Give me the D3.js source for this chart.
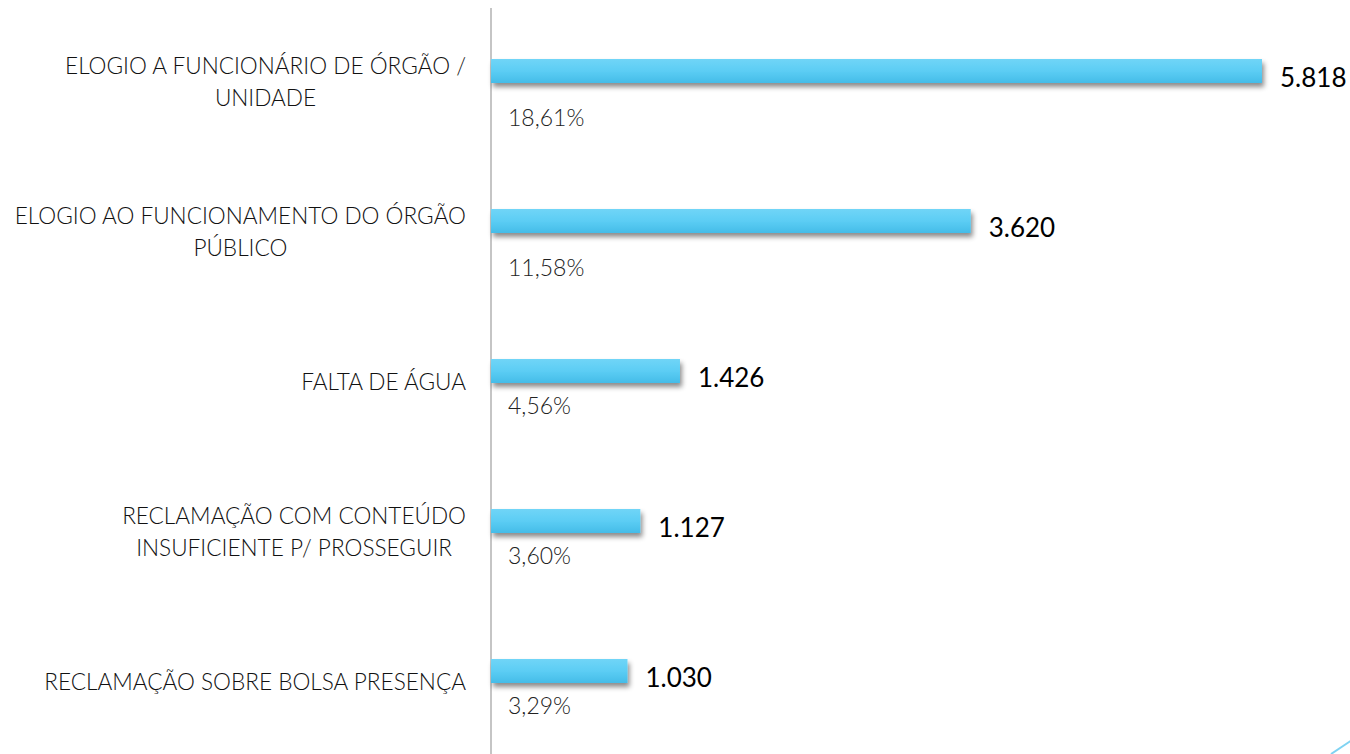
<!DOCTYPE html>
<html>
<head>
<meta charset="utf-8">
<script src="https://cdn.jsdelivr.net/npm/d3@7"></script>
<style>
  html, body { margin: 0; padding: 0; background: #fff; }
  svg { display: block; }
</style>
</head>
<body>
<div id="chart"></div>
<script>
// chart data
const categories = [
  ["ELOGIO A FUNCIONÁRIO DE ÓRGÃO /", "UNIDADE"],
  ["ELOGIO AO FUNCIONAMENTO DO ÓRGÃO", "PÚBLICO"],
  ["FALTA DE ÁGUA"],
  ["RECLAMAÇÃO COM CONTEÚDO", "INSUFICIENTE P/ PROSSEGUIR"],
  ["RECLAMAÇÃO SOBRE BOLSA PRESENÇA"]
];
const values = [5818, 3620, 1426, 1127, 1030];
const valueLabels = ["5.818", "3.620", "1.426", "1.127", "1.030"];
const percentLabels = ["18,61%", "11,58%", "4,56%", "3,60%", "3,29%"];

const width = 1350,
      height = 754,
      axisX = 491,
      barEnd = 1262,
      barH = 24,
      labelRight = 466;

const svg = d3.select("#chart")
  .append("svg")
    .attr("width", width)
    .attr("height", height);

const defs = svg.append("defs");

// gradient on the bars, lighter on top
const grad = defs.append("linearGradient")
    .attr("id", "barGrad")
    .attr("x1", 0).attr("y1", 0).attr("x2", 0).attr("y2", 1);
grad.append("stop").attr("offset", "0%").attr("stop-color", "#70d5f7");
grad.append("stop").attr("offset", "50%").attr("stop-color", "#5ccdf4");
grad.append("stop").attr("offset", "100%").attr("stop-color", "#44bce8");

// soft drop shadow under the bars
defs.append("filter")
    .attr("id", "shadow")
    .attr("x", "-5%").attr("y", "-50%")
    .attr("width", "115%").attr("height", "250%")
  .append("feDropShadow")
    .attr("dx", 2)
    .attr("dy", 4)
    .attr("stdDeviation", 2.5)
    .attr("flood-color", "#000")
    .attr("flood-opacity", 0.45);

const idx = d3.range(values.length);

// scales
const x = d3.scaleLinear()
  .domain([0, d3.max(values)])
  .range([axisX, barEnd]);

const y = d3.scalePoint()
  .domain(idx)
  .range([82, 682]);

// vertical axis line
svg.append("line")
  .attr("x1", axisX).attr("x2", axisX)
  .attr("y1", 8).attr("y2", height)
  .attr("stroke", "#a6a6a6")
  .attr("stroke-width", 1.3);

// bars
svg.selectAll("rect.bar")
  .data(idx)
  .join("rect")
    .attr("class", "bar")
    .attr("x", x(0))
    .attr("y", i => y(i) - 23)
    .attr("width", i => x(values[i]) - x(0))
    .attr("height", barH)
    .attr("fill", "url(#barGrad)")
    .attr("filter", "url(#shadow)");

// category labels on the left, wrapped lines are centred on each other
const catText = svg.selectAll("text.cat")
  .data(idx)
  .join("text")
    .attr("class", "cat")
    .attr("text-anchor", "middle")
    .style("font-family", "Lato, 'Open Sans', sans-serif")
    .style("font-weight", 300)
    .style("font-size", "22.6px")
    .style("fill", "#111");

catText.each(function(i) {
  const lines = categories[i];
  const t = d3.select(this);
  const start = y(i) - (lines.length - 1) * 16;
  const spans = lines.map((ln, k) =>
    t.append("tspan")
      .attr("y", start + k * 32)
      .attr("dy", "0.35em")
      .text(ln));
  // block is right aligned next to the axis
  const widest = d3.max(spans, s => s.node().getComputedTextLength());
  spans.forEach(s => s.attr("x", labelRight - widest / 2));
});

// value labels at the end of the bars
svg.selectAll("text.val")
  .data(idx)
  .join("text")
    .attr("class", "val")
    .attr("x", i => x(values[i]) + 18)
    .attr("y", i => y(i) - 4)
    .attr("dy", "0.35em")
    .text(i => valueLabels[i])
    .style("font-family", "Lato, 'Open Sans', sans-serif")
    .style("font-size", "26px")
    .style("fill", "#000");

// percentage below each bar (the two long bars sit a bit lower)
svg.selectAll("text.pct")
  .data(idx)
  .join("text")
    .attr("class", "pct")
    .attr("x", 508)
    .attr("y", i => y(i) + (i < 2 ? 36 : 24))
    .attr("dy", "0.35em")
    .text(i => percentLabels[i])
    .style("font-family", "Lato, 'Open Sans', sans-serif")
    .style("font-weight", 300)
    .style("font-size", "23px")
    .style("fill", "#222");

// small decorative stroke in the corner
svg.append("line")
  .attr("x1", 1331).attr("y1", 754)
  .attr("x2", 1352).attr("y2", 740)
  .attr("stroke", "#7fd3f2")
  .attr("stroke-width", 2);
</script>
</body>
</html>
